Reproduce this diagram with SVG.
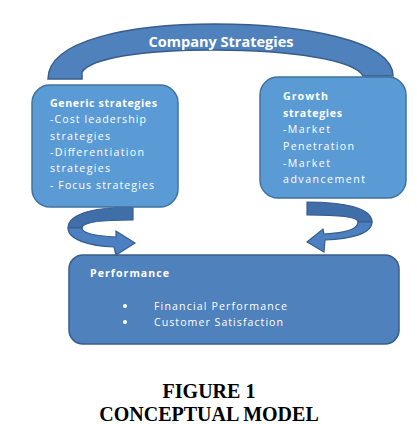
<svg xmlns="http://www.w3.org/2000/svg" width="417" height="424" viewBox="0 0 417 424">
<style>
.lt{fill:#5B9BD5;stroke:#41719C;stroke-width:1.5}
.dk{fill:#4F81BD;stroke:#385D8A;stroke-width:1.5}
.back{fill:#3F6EA8;stroke:#385D8A;stroke-width:1.2}
.front{fill:#4C80C0;stroke:#385D8A;stroke-width:1.2}
.t{font-family:"Open Sans","Noto Sans",sans-serif;font-size:10.6px;fill:#FFFFFF}
.b{font-weight:bold}
.cap{font-family:"Liberation Serif","Times New Roman",serif;font-size:20px;font-weight:bold;fill:#000;text-anchor:middle}
</style>
<rect width="417" height="424" fill="#FFFFFF"/>
<g id="connectors">
<path id="arc-top" class="dk" d="M48,79 C48,40 130,24 215,24 C300,24 393,40 393,76 L363,76 C355,60 290,50 215,50 C140,50 92,58 82,72 L82,79 Z"/>
<g id="arrow-left">
<path class="back" d="M133,207 C100,207 68,212 68,228 L82,228 C82,222 105,220 133,220 Z"/>
<path class="front" d="M68,228 C68,240 90,246 114,247 L116,255 L135,243 L116,231 L116,237 C96,236 82,233 82,228 Z"/>
</g>
<g id="arrow-right">
<path class="back" d="M307,202 C345,202 372,208 372,222 L358,222 C358,216 335,215 307,215 Z"/>
<path class="front" d="M372,222 C372,234 350,239 325,240 L324,252 L307,242 L323,229 L324,234 C345,233 358,229 358,222 Z"/>
</g>
<text class="t b" x="221" y="47" text-anchor="middle" textLength="145" lengthAdjust="spacingAndGlyphs" style="font-size:13.5px">Company Strategies</text>
</g>
<g id="generic">
<rect class="lt" x="32" y="85" width="146" height="122" rx="18"/>
<text class="t b" x="50" y="107" textLength="107">Generic strategies</text>
<text class="t" x="50" y="123" textLength="96">-Cost leadership</text>
<text class="t" x="50" y="139.5" textLength="60">strategies</text>
<text class="t" x="50" y="156" textLength="94">-Differentiation</text>
<text class="t" x="50" y="172" textLength="60">strategies</text>
<text class="t" x="50" y="188.5" textLength="104">- Focus strategies</text>
</g>
<g id="growth">
<rect class="lt" x="260" y="77" width="146" height="121" rx="18"/>
<text class="t b" x="283" y="100" textLength="45">Growth</text>
<text class="t b" x="283" y="117" textLength="59">strategies</text>
<text class="t" x="283" y="133" textLength="47">-Market</text>
<text class="t" x="283" y="150" textLength="71">Penetration</text>
<text class="t" x="283" y="167" textLength="47">-Market</text>
<text class="t" x="283" y="183" textLength="82">advancement</text>
</g>
<g id="performance">
<rect class="dk" x="69" y="255" width="330" height="89" rx="14"/>
<text class="t b" x="90" y="277" textLength="79">Performance</text>
<circle cx="125" cy="306" r="2" fill="#FFFFFF"/>
<circle cx="125" cy="322" r="2" fill="#FFFFFF"/>
<text class="t" x="154" y="310" textLength="133">Financial Performance</text>
<text class="t" x="154" y="326" textLength="129">Customer Satisfaction</text>
</g>
<g id="caption">
<text class="cap" x="209" y="398">FIGURE 1</text>
<text class="cap" x="209" y="421">CONCEPTUAL MODEL</text>
</g>
</svg>
